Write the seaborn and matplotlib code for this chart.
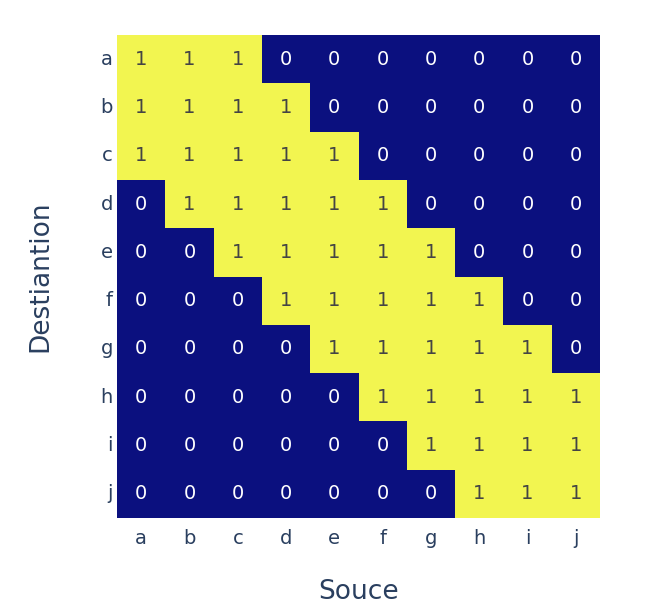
import numpy as np
import pandas as pd
import seaborn as sns
import matplotlib.pyplot as plt
from matplotlib.colors import ListedColormap

sources = ["a", "b", "c", "d", "e", "f", "g", "h", "i", "j"]
destinations = ["a", "b", "c", "d", "e", "f", "g", "h", "i", "j"]
values = [
    [1, 1, 1, 0, 0, 0, 0, 0, 0, 0],
    [1, 1, 1, 1, 0, 0, 0, 0, 0, 0],
    [1, 1, 1, 1, 1, 0, 0, 0, 0, 0],
    [0, 1, 1, 1, 1, 1, 0, 0, 0, 0],
    [0, 0, 1, 1, 1, 1, 1, 0, 0, 0],
    [0, 0, 0, 1, 1, 1, 1, 1, 0, 0],
    [0, 0, 0, 0, 1, 1, 1, 1, 1, 0],
    [0, 0, 0, 0, 0, 1, 1, 1, 1, 1],
    [0, 0, 0, 0, 0, 0, 1, 1, 1, 1],
    [0, 0, 0, 0, 0, 0, 0, 1, 1, 1],
]

df = pd.DataFrame(values, index=destinations, columns=sources)

plt.rcParams['font.family'] = ['DejaVu Sans']
fig = plt.figure(figsize=(6.52, 6.16), dpi=100)
ax = fig.add_axes([117/652, 1 - 518/616, (600-117)/652, (518-35)/616])

cmap = ListedColormap(['#0b107f', '#f2f550'])
sns.heatmap(df, ax=ax, cmap=cmap, vmin=0, vmax=1, cbar=False,
            annot=False, square=False)

for i, row in enumerate(values):
    for j, v in enumerate(row):
        ax.text(j + 0.5, i + 0.5, str(v), ha='center', va='center',
                fontsize=14, color='white' if v == 0 else '#444444')

tc = '#2a3f5f'
ax.set_xticks(np.arange(len(sources)) + 0.5)
ax.set_xticklabels(sources, fontsize=14, color=tc, rotation=0)
ax.set_yticks(np.arange(len(destinations)) + 0.5)
ax.set_yticklabels(destinations, fontsize=14, color=tc, rotation=0)
ax.tick_params(length=0, pad=3)
ax.tick_params(axis='x', pad=8)
ax.set_xlabel('Souce', fontsize=19, color=tc, labelpad=22)
ax.set_ylabel('Destiantion', fontsize=19, color=tc, labelpad=34)

fig.savefig('out.png', dpi=100)
